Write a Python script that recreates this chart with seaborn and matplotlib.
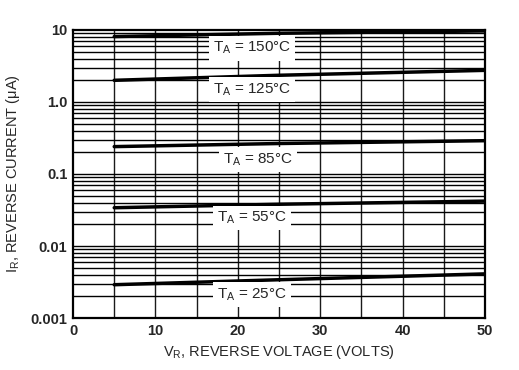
import numpy as np
import pandas as pd
import matplotlib
matplotlib.use("Agg")
import matplotlib.pyplot as plt
import seaborn as sns
from matplotlib.ticker import FixedLocator, NullFormatter

# Reverse current curves
vr = [5, 25, 50]
temps = ["150", "125", "85", "55", "25"]
ir_150 = [8.1, 9.0, 9.7]
ir_125 = [2.0, 2.35, 2.75]
ir_85 = [0.24, 0.265, 0.29]
ir_55 = [0.034, 0.038, 0.042]
ir_25 = [0.0029, 0.0034, 0.0041]

# label anchor points (x in volts, y in uA)
label_x = [21.7, 21.7, 22.5, 21.7, 21.7]
label_y = [5.6, 1.5, 0.16, 0.0245, 0.0021]

frame = pd.DataFrame({
    "VR": vr * 5,
    "IR": ir_150 + ir_125 + ir_85 + ir_55 + ir_25,
    "TA": [t for t in temps for _ in vr],
})

sns.set_theme(style="white")
plt.rcParams["font.family"] = ["Liberation Sans", "DejaVu Sans"]

fig = plt.figure(figsize=(5.19, 3.70), dpi=100)
ax = fig.add_axes([0.1407, 0.1405, 0.7938, 0.7785])

ax.set_yscale("log")
ax.set_xlim(0, 50)
ax.set_ylim(0.001, 10)

# grid: every 5 V and every log minor step
for x in np.arange(5, 50, 5):
    ax.axvline(x, color="#1a1a1a", lw=1.0, zorder=1)
for dec in [0.001, 0.01, 0.1, 1.0]:
    for m in range(1, 10):
        if dec * m > 0.001:
            ax.axhline(dec * m, color="black", lw=1.0, zorder=1)

sns.lineplot(data=frame, x="VR", y="IR", hue="TA", palette=["black"] * 5,
             linewidth=2.5, legend=False, ax=ax, zorder=3)

for t, lx, ly in zip(temps, label_x, label_y):
    ax.text(lx, ly, "T$_\\mathregular{A}$ = " + t + "\u00b0C", ha="center", va="center",
            fontsize=11, zorder=4,
            bbox=dict(facecolor="white", edgecolor="none", pad=3))

ax.yaxis.set_major_locator(FixedLocator([0.001, 0.01, 0.1, 1.0, 10]))
ax.yaxis.set_minor_formatter(NullFormatter())
ax.set_yticklabels(["0.001", "0.01", "0.1", "1.0", "10"])
ax.set_xticks(np.arange(0, 51, 10))
ax.tick_params(axis="both", which="both", length=0, labelsize=10.5, pad=4)
for lab in ax.get_xticklabels() + ax.get_yticklabels():
    lab.set_fontweight("bold")

for s in ax.spines.values():
    s.set_color("black")
    s.set_linewidth(1.6)

ax.set_xlabel("V$_\\mathregular{R}$, REVERSE VOLTAGE (VOLTS)", fontsize=10.5, labelpad=4)
ax.set_ylabel("I$_\\mathregular{R}$, REVERSE CURRENT (\u03bcA)", fontsize=10.5, labelpad=6)

fig.savefig("out.png", dpi=100)
